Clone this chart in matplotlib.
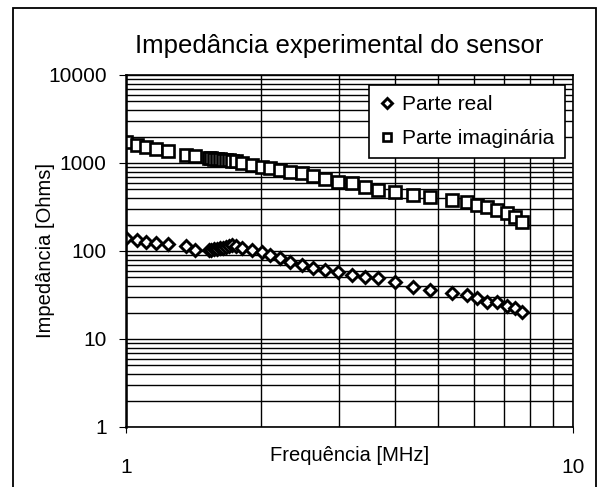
import matplotlib
matplotlib.use("Agg")
import matplotlib.pyplot as plt
from matplotlib.patches import Rectangle
from matplotlib.ticker import LogLocator, NullFormatter

plt.rcParams['font.family'] = ['Liberation Sans', 'DejaVu Sans']

# frequencies in MHz
freq = [1.00, 1.06, 1.11, 1.17, 1.24, 1.36, 1.43,
        1.53, 1.55, 1.57, 1.60, 1.62, 1.65, 1.67, 1.70, 1.73, 1.76,
        1.82, 1.91, 2.02, 2.10, 2.21, 2.33, 2.48, 2.62, 2.79, 2.98,
        3.20, 3.43, 3.66, 4.00, 4.38, 4.79, 5.36, 5.79, 6.09, 6.42,
        6.76, 7.13, 7.42, 7.68]

# real part [Ohms]
real = [140, 133, 127, 123, 120, 114, 103,
        103, 103, 105, 105, 108, 108, 111, 114, 117, 114,
        108, 103, 97, 90, 83, 75, 69, 64, 61, 58,
        53, 51, 49, 44, 39, 36, 33, 32, 29, 26,
        26, 24, 22.5, 20.5]

# imaginary part [Ohms]
imag = [1730, 1600, 1520, 1440, 1370, 1230, 1200,
        1140, 1140, 1110, 1110, 1110, 1080, 1080, 1080, 1055, 1055,
        1000, 950, 900, 877, 832, 790, 769, 711, 658, 608,
        593, 534, 493, 468, 433, 411, 380, 361, 333, 316,
        292, 270, 243, 214]

xticks = [1, 10]
xtick_labels = ['1', '10']
yticks = [1, 10, 100, 1000, 10000]
ytick_labels = ['1', '10', '100', '1000', '10000']

fig = plt.figure(figsize=(6, 4.87), dpi=100)
ax = fig.add_axes([126/600, 60/487, 447/600, 352/487])

ax.plot(freq, real, linestyle='none', marker='D', ms=6.3, mfc='white',
        mec='black', mew=2.1, label='Parte real')
ax.plot(freq, imag, linestyle='none', marker='s', ms=8.3, mfc='white',
        mec='black', mew=1.9, label='Parte imaginária')

ax.set_xscale('log')
ax.set_yscale('log')
ax.set_xlim(1, 10)
ax.set_ylim(1, 10000)

ax.set_xticks(xticks)
ax.set_xticklabels(xtick_labels)
ax.set_yticks(yticks)
ax.set_yticklabels(ytick_labels)
ax.xaxis.set_minor_locator(LogLocator(base=10, subs=range(2, 10)))
ax.yaxis.set_minor_locator(LogLocator(base=10, subs=range(2, 10)))
ax.xaxis.set_minor_formatter(NullFormatter())
ax.yaxis.set_minor_formatter(NullFormatter())

ax.tick_params(axis='x', which='major', labelsize=15, length=4, pad=18, color='black')
ax.tick_params(axis='y', which='major', labelsize=15, length=5, pad=9, color='black')
ax.tick_params(which='minor', length=0)

ax.grid(which='both', color='black', linewidth=1.0)
ax.set_axisbelow(True)
for side in ['top', 'right', 'bottom']:
    ax.spines[side].set_linewidth(1.2)
ax.spines['left'].set_linewidth(1.8)

fig.text(339/600, 1 - 53/487, 'Impedância experimental do sensor',
         ha='center', va='baseline', fontsize=18.5)
fig.text(350/600, 1 - 461/487, 'Frequência [MHz]',
         ha='center', va='baseline', fontsize=14.5)
fig.text(46/600, 1 - 251/487, 'Impedância [Ohms]', rotation=90,
         ha='center', va='center', fontsize=14.5)

leg = ax.legend(loc='upper right', bbox_to_anchor=(565/600, 1 - 85/487),
                bbox_transform=fig.transFigure, borderaxespad=0,
                fontsize=15, fancybox=False, framealpha=1, edgecolor='black',
                handlelength=0.7, handletextpad=0.4, labelspacing=0.7,
                borderpad=0.5, markerscale=0.75)
leg.get_frame().set_linewidth(1.2)

# border round the whole chart
fig.patches.append(Rectangle((13/600, -0.02), 583/600, 1 - 8/487 + 0.02,
                             transform=fig.transFigure, fill=False,
                             edgecolor='black', linewidth=1.3))

fig.savefig('out.png', dpi=100)
